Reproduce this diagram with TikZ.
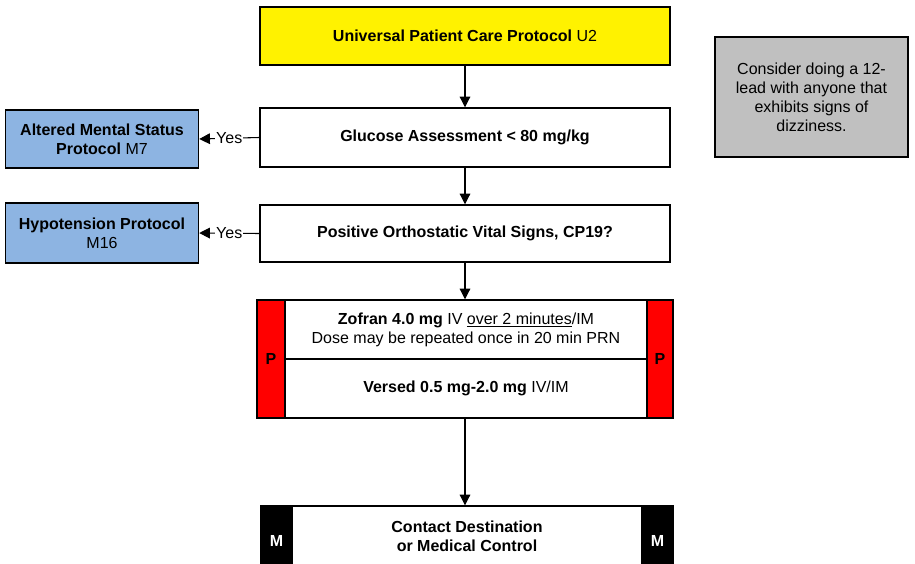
\documentclass[tikz,border=0pt]{standalone}
\usepackage{fontspec}
\setmainfont{Liberation Sans}
\usetikzlibrary{arrows.meta}
\definecolor{protoblue}{HTML}{8DB4E2}
\definecolor{notegray}{HTML}{C0C0C0}
\begin{document}
\begin{tikzpicture}[x=0.75pt,y=-0.75pt,
  every node/.style={font=\fontsize{12}{14.2}\selectfont, align=center},
  box/.style={draw=black, line width=1.1pt, rectangle, inner sep=0pt},
  flow/.style={draw=black, line width=0.8pt, -{Triangle[length=8pt,width=8pt]}},
  yeslabel/.style={fill=white, inner sep=0.6pt, font=\fontsize{12}{14}\selectfont}
]
\useasboundingbox (0,0) rectangle (915,564);
\clip (0,0) rectangle (915,564);

% main column
\node[box, fill=yellow, minimum width=410*0.75pt, minimum height=58*0.75pt] (upc) at (465,36)
  {\textbf{Universal Patient Care Protocol} U2};
\node[box, fill=white, minimum width=410*0.75pt, minimum height=59*0.75pt] (gluc) at (465,137.5)
  {\textbf{Glucose Assessment < 80 mg/kg}};
\node[box, fill=white, minimum width=410*0.75pt, minimum height=57*0.75pt] (ortho) at (465,233.5)
  {\textbf{Positive Orthostatic Vital Signs, CP19?}};

% side protocols
\node[box, fill=protoblue, minimum width=193*0.75pt, minimum height=58*0.75pt] (ams) at (102,139)
  {\textbf{Altered Mental Status}\\\textbf{Protocol} M7};
\node[box, fill=protoblue, minimum width=193*0.75pt, minimum height=60*0.75pt] (hypo) at (102,233)
  {\textbf{Hypotension Protocol}\\M16};

% note
\node[box, fill=notegray, minimum width=193*0.75pt, minimum height=120*0.75pt] (note) at (811.5,97)
  {\fontsize{12}{14.6}\selectfont Consider doing a 12-\\lead with anyone that\\exhibits signs of\\dizziness.};

% medication block with paramedic strips
\node[box, fill=white, minimum width=416*0.75pt, minimum height=118*0.75pt] (meds) at (465,359) {};
\node[box, fill=red, minimum width=28*0.75pt, minimum height=118*0.75pt] (pl) at (271,359) {\textbf{P}};
\node[box, fill=red, minimum width=26*0.75pt, minimum height=118*0.75pt] (pr) at (660,359) {\textbf{P}};
\draw[line width=1.1pt] (pl.east |- 0,359) -- (pr.west |- 0,359);
\node (zof) at (466,329.5) {\textbf{Zofran 4.0 mg} IV \underline{over 2 minutes}/IM\\Dose may be repeated once in 20 min PRN};
\node (ver) at (466,388.5) {\textbf{Versed 0.5 mg-2.0 mg} IV/IM};

% contact block with medical strips
\node[box, fill=white, minimum width=412*0.75pt, minimum height=70*0.75pt] (contact) at (467,541)
  {};
\node[box, fill=black, text=white, minimum width=31*0.75pt, minimum height=70*0.75pt] (ml) at (276.5,541) {\textbf{M}};
\node[box, fill=black, text=white, minimum width=31*0.75pt, minimum height=70*0.75pt] (mr) at (657.5,541) {\textbf{M}};
\node (ctext) at (467,536) {\fontsize{12}{15}\selectfont\textbf{Contact Destination}\\\textbf{or Medical Control}};

% connectors
\draw[flow] (upc.south) -- (gluc.north);
\draw[flow] (gluc.south) -- (ortho.north);
\draw[flow] (ortho.south) -- (meds.north);
\draw[flow] (meds.south) -- (meds.south |- contact.north);
\draw[flow] (gluc.west) -- node[yeslabel, pos=0.5] {Yes} (ams.east);
\draw[flow] (ortho.west) -- node[yeslabel, pos=0.5] {Yes} (hypo.east);
\end{tikzpicture}
\end{document}
